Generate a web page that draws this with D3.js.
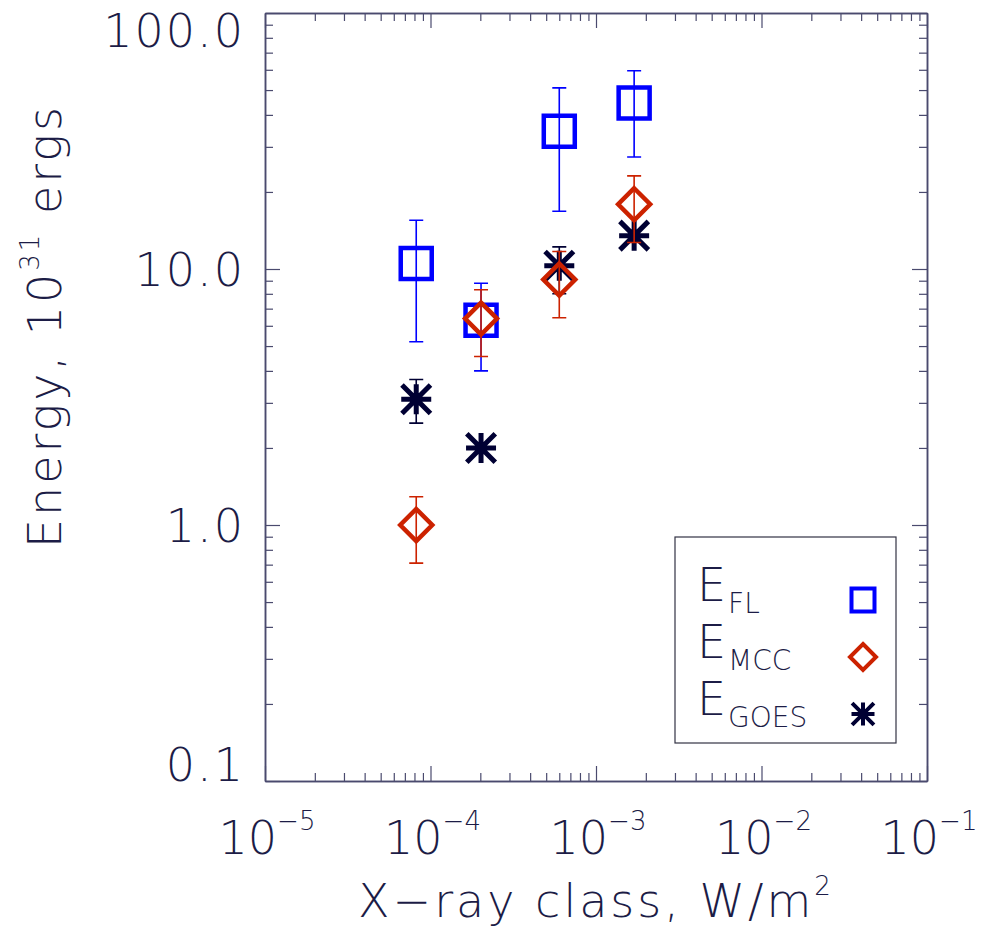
<!DOCTYPE html>
<html>
<head>
<meta charset="utf-8">
<style>
  body { margin: 0; background: #ffffff; }
  text { font-family: "DejaVu Sans", sans-serif; font-weight: 200; fill: #1c1c46; }
</style>
</head>
<body>
<div id="chart"></div>
<script src="https://d3js.org/d3.v7.min.js"></script>
<script>
// X-ray class of each flare (W/m^2)
var xClass = [8.2e-5, 2.02e-4, 6.0e-4, 1.7e-3];

// E_FL, 10^31 ergs
var eFL   = [10.5, 6.3, 34.5, 44.5];
var eFLlo = [5.2, 4.0, 16.8, 27.4];
var eFLhi = [15.5, 8.8, 51.0, 59.5];

// E_MCC
var eMCC   = [1.0, 6.4, 9.1, 17.9];
var eMCClo = [0.71, 4.55, 6.45, 12.7];
var eMCChi = [1.29, 8.3, 11.7, 23.1];

// E_GOES (no bar where none is drawn)
var eGOES   = [3.1, 2.0, 10.3, 13.5];
var eGOESlo = [2.5, null, 8.0, null];
var eGOEShi = [3.7, null, 12.2, null];

// tick labels
var xTicks = [1e-5, 1e-4, 1e-3, 1e-2, 1e-1];
var xExp = ["−5", "−4", "−3", "−2", "−1"];
var yTicks = [0.1, 1, 10, 100];
var yLabels = ["0.1", "1.0", "10.0", "100.0"];

var width = 981, height = 935;
var pLeft = 265, pRight = 927, pTop = 13, pBottom = 781;
var axisColor = "#4a4a6e";

var svg = d3.select("#chart")
    .append("svg")
    .attr("width", width)
    .attr("height", height);

var x = d3.scaleLog().domain([1e-5, 1e-1]).range([pLeft, pRight]);
var y = d3.scaleLog().domain([0.1, 100]).range([pBottom, pTop]);

// minor tick values
function minors(lo, hi) {
    var out = [];
    for (var e = lo; e < hi; e++) {
        for (var k = 2; k <= 9; k++) out.push(k * Math.pow(10, e));
    }
    return out;
}
var xMinor = minors(-5, -1);
var yMinor = minors(-1, 2);

// axes - ticks point inward on all four sides
function drawAxis(axis, tx, ty) {
    var g = svg.append("g")
        .attr("transform", "translate(" + tx + "," + ty + ")")
        .call(axis);
    g.selectAll("path").attr("stroke", axisColor).attr("stroke-width", 1.5);
    g.selectAll("line").attr("stroke", axisColor).attr("stroke-width", 1.2);
    g.selectAll("text").remove();
}
drawAxis(d3.axisBottom(x).tickValues(xTicks).tickSize(-15).tickSizeOuter(0), 0, pBottom);
drawAxis(d3.axisBottom(x).tickValues(xMinor).tickSize(-8).tickSizeOuter(0), 0, pBottom);
drawAxis(d3.axisTop(x).tickValues(xTicks).tickSize(-15).tickSizeOuter(0), 0, pTop);
drawAxis(d3.axisTop(x).tickValues(xMinor).tickSize(-8).tickSizeOuter(0), 0, pTop);
drawAxis(d3.axisLeft(y).tickValues(yTicks).tickSize(-15).tickSizeOuter(0), pLeft, 0);
drawAxis(d3.axisLeft(y).tickValues(yMinor).tickSize(-8).tickSizeOuter(0), pLeft, 0);
drawAxis(d3.axisRight(y).tickValues(yTicks).tickSize(-15).tickSizeOuter(0), pRight, 0);
drawAxis(d3.axisRight(y).tickValues(yMinor).tickSize(-8).tickSizeOuter(0), pRight, 0);

// y tick labels, kept inside the axis range like IDL does
var capH = 34;
svg.selectAll(".ylab")
    .data(yTicks)
    .enter()
    .append("text")
    .attr("class", "ylab")
    .attr("x", 245)
    .attr("y", function(d) {
        var b = y(d) + capH / 2;
        return Math.max(pTop + capH, Math.min(pBottom, b));
    })
    .attr("text-anchor", "end")
    .attr("font-size", 46)
    .attr("letter-spacing", 2)
    .text(function(d, i) { return yLabels[i]; });

// x tick labels 10^n
var xl = svg.selectAll(".xlab")
    .data(xTicks)
    .enter()
    .append("text")
    .attr("class", "xlab")
    .attr("x", function(d) { return x(d) + 2; })
    .attr("y", 854)
    .attr("text-anchor", "middle")
    .attr("font-size", 46);
xl.append("tspan").text("10");
xl.append("tspan")
    .attr("font-size", 26)
    .attr("dy", -24)
    .text(function(d, i) { return xExp[i]; });

// axis titles
var xt = svg.append("text")
    .attr("x", (pLeft + pRight) / 2)
    .attr("y", 917)
    .attr("text-anchor", "middle")
    .attr("font-size", 46)
    .attr("letter-spacing", 3);
xt.append("tspan").text("X−ray class, W/m");
xt.append("tspan").attr("font-size", 26).attr("dy", -22).text("2");

var yt = svg.append("text")
    .attr("transform", "translate(61,548) rotate(-90)")
    .attr("text-anchor", "start")
    .attr("font-size", 46)
    .attr("letter-spacing", 3);
yt.append("tspan").text("Energy, 10");
yt.append("tspan").attr("font-size", 26).attr("dy", -22).text("31");
yt.append("tspan").attr("dy", 22).text(" ergs");

// marker shapes
function squarePath(s) {
    return "M" + (-s) + "," + (-s) + "H" + s + "V" + s + "H" + (-s) + "Z";
}
function diamondPath(s) {
    return "M0," + (-s) + "L" + s + ",0L0," + s + "L" + (-s) + ",0Z";
}
function starPath(s) {
    var d = s * 0.95;
    return "M" + (-s) + ",0H" + s + "M0," + (-s) + "V" + s +
        "M" + (-d) + "," + (-d) + "L" + d + "," + d +
        "M" + (-d) + "," + d + "L" + d + "," + (-d);
}

function drawSeries(vals, lo, hi, color, shape, size, sw) {
    var g = svg.append("g");
    var idx = d3.range(vals.length);
    var bars = idx.filter(function(i) { return lo[i] != null; });
    g.selectAll(".eb")
        .data(bars)
        .enter()
        .append("path")
        .attr("fill", "none")
        .attr("stroke", color)
        .attr("stroke-width", 1.6)
        .attr("d", function(i) {
            var cx = x(xClass[i]), y0 = y(lo[i]), y1 = y(hi[i]);
            return "M" + cx + "," + y0 + "V" + y1 +
                "M" + (cx - 7) + "," + y0 + "H" + (cx + 7) +
                "M" + (cx - 7) + "," + y1 + "H" + (cx + 7);
        });
    g.selectAll(".mk")
        .data(idx)
        .enter()
        .append("path")
        .attr("transform", function(i) {
            return "translate(" + x(xClass[i]) + "," + y(vals[i]) + ")";
        })
        .attr("d", shape(size))
        .attr("fill", "none")
        .attr("stroke", color)
        .attr("stroke-width", sw);
}

var blue = "#0000ff", red = "#cc2200", navy = "#000033";
drawSeries(eFL, eFLlo, eFLhi, blue, squarePath, 15.5, 4.5);
drawSeries(eGOES, eGOESlo, eGOEShi, navy, starPath, 15, 5);
drawSeries(eMCC, eMCClo, eMCChi, red, diamondPath, 16, 4.5);

// legend
svg.append("rect")
    .attr("x", 675).attr("y", 537)
    .attr("width", 221).attr("height", 206)
    .attr("fill", "#ffffff")
    .attr("stroke", "#333344")
    .attr("stroke-width", 1.2);

var legend = [
    {sub: "FL", color: blue, shape: squarePath, size: 11.5},
    {sub: "MCC", color: red, shape: diamondPath, size: 13},
    {sub: "GOES", color: navy, shape: starPath, size: 11.5}
];
legend.forEach(function(d, i) {
    var by = 601 + i * 57;
    var t = svg.append("text")
        .attr("x", 697).attr("y", by)
        .attr("font-size", 46);
    t.append("tspan").text("E");
    t.append("tspan").attr("font-size", 28).attr("dy", 12).attr("dx", 2).text(d.sub);
    svg.append("path")
        .attr("transform", "translate(" + 863 + "," + (by - 1) + ")")
        .attr("d", d.shape(d.size))
        .attr("fill", "none")
        .attr("stroke", d.color)
        .attr("stroke-width", 4);
});
</script>
</body>
</html>
